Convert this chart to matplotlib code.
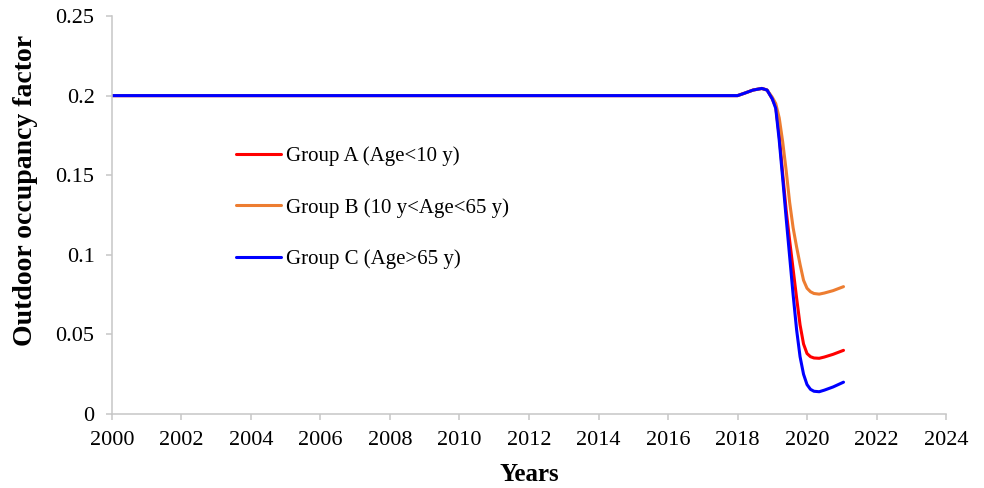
import matplotlib.pyplot as plt
from matplotlib.ticker import FuncFormatter
import numpy as np

plt.rcParams['font.family'] = ['Liberation Serif', 'DejaVu Serif']

# values
years = [2000, 2018, 2018.2, 2018.45, 2018.7, 2018.85, 2019.0, 2019.1, 2019.2, 2019.3,
         2019.4, 2019.5, 2019.6, 2019.7, 2019.8, 2019.9, 2020.0, 2020.1, 2020.2,
         2020.35, 2020.5, 2020.75, 2021.05]
group_a = [0.2, 0.2, 0.2015, 0.2035, 0.2045, 0.2035, 0.198, 0.193, 0.175, 0.151,
           0.128, 0.109, 0.091, 0.073, 0.056, 0.044, 0.038, 0.036, 0.0352,
           0.035, 0.0358, 0.0375, 0.04]
group_b = [0.2, 0.2, 0.2015, 0.2035, 0.2045, 0.2035, 0.199, 0.195, 0.186, 0.171,
           0.153, 0.133, 0.117, 0.105, 0.094, 0.084, 0.079, 0.0768, 0.0757,
           0.0753, 0.076, 0.0775, 0.08]
group_c = [0.2, 0.2, 0.2015, 0.2035, 0.2045, 0.2035, 0.198, 0.192, 0.172, 0.148,
           0.123, 0.099, 0.075, 0.053, 0.036, 0.025, 0.0185, 0.0155, 0.0143,
           0.014, 0.015, 0.017, 0.02]
labels = ["Group A (Age<10 y)", "Group B (10 y<Age<65 y)", "Group C (Age>65 y)"]
colors = ["#FF0000", "#ED7D31", "#0000FF"]

fig = plt.figure(figsize=(9.84, 4.88), dpi=100)
ax = fig.add_axes([0.1138, 0.1516, 0.8476, 0.8156])

for vals, lab, col in zip([group_a, group_b, group_c], labels, colors):
    ax.plot(years, vals, color=col, lw=2.2, label=lab,
            solid_joinstyle='round', solid_capstyle='round')

ax.set_xlim(2000, 2024)
ax.set_ylim(0, 0.25)
ax.set_xticks(np.arange(2000, 2025, 2))
ax.set_yticks([0, 0.05, 0.1, 0.15, 0.2, 0.25])
ax.yaxis.set_major_formatter(FuncFormatter(lambda v, p: '%g' % round(v, 3)))

for s in ['top', 'right']:
    ax.spines[s].set_visible(False)
for s in ['left', 'bottom']:
    ax.spines[s].set_color('#C6C6C6')
    ax.spines[s].set_linewidth(1.1)
ax.tick_params(axis='both', colors='#C6C6C6', labelcolor='black', labelsize=16,
               length=4.5, width=1.1)
ax.tick_params(axis='x', pad=8)
ax.tick_params(axis='y', pad=8)

ax.set_xlabel("Years", fontsize=18, fontweight='bold')
ax.set_ylabel("Outdoor occupancy factor", fontsize=20, fontweight='bold')
ax.xaxis.set_label_coords(0.5, -0.123)
ax.yaxis.set_label_coords(-0.089, 0.563)

ax.legend(loc='upper left', bbox_to_anchor=(0.149, 0.673), frameon=False, fontsize=15,
          handlelength=2.15, labelspacing=1.53, handletextpad=0.25,
          borderpad=0, borderaxespad=0)

fig.savefig("out.png", dpi=100)
